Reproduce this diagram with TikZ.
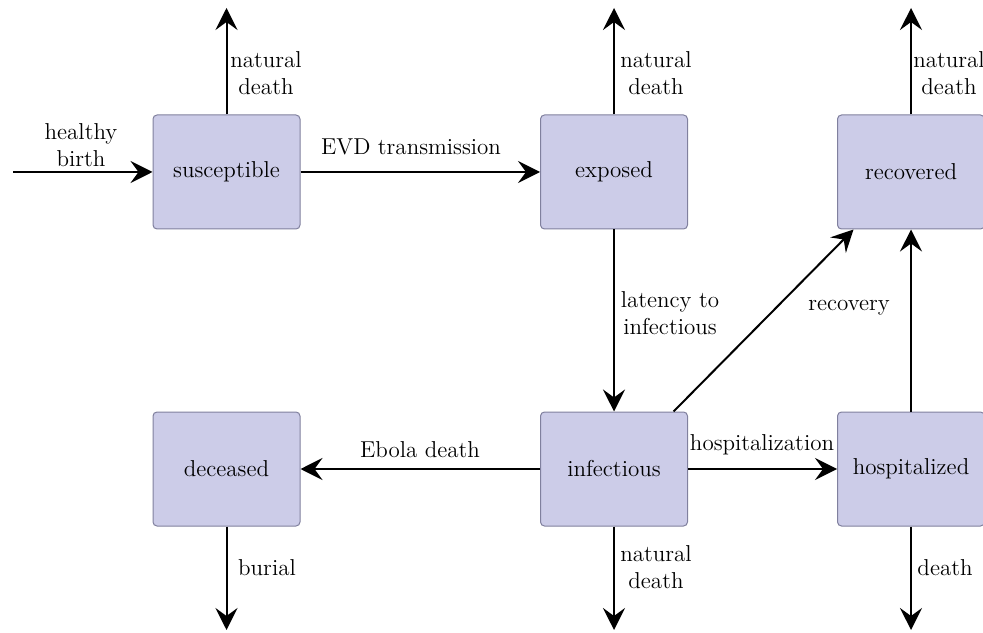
\documentclass[tikz,border=0pt]{standalone}
\usetikzlibrary{arrows.meta}

\definecolor{boxfill}{RGB}{204,204,232}
\definecolor{boxline}{RGB}{128,128,158}

\tikzset{
  compartment/.style={draw=boxline, fill=boxfill, line width=0.5pt,
    rounded corners=2pt, minimum width=73.5pt, minimum height=57pt,
    font=\fontsize{11.5}{13.6}\selectfont},
  flow/.style={line width=1pt, -{Stealth[length=11pt,width=11pt,inset=4pt]}},
  flowlabel/.style={align=center, inner sep=0pt, font=\fontsize{11.5}{13.6}\selectfont}
}

\begin{document}
\begin{tikzpicture}[x=0.5pt,y=0.5pt]

\useasboundingbox (0,0) rectangle (983,632);

% compartments
\node[compartment] (sus) at (226.5,460) {susceptible};
\node[compartment] (exp) at (614,460) {exposed};
\node[compartment] (rec) at (911,460) {recovered};
\node[compartment] (dec) at (226.5,163) {deceased};
\node[compartment] (inf) at (614,163) {infectious};
\node[compartment] (hos) at (911,163) {hospitalized};

% free ends
\coordinate (birth) at (13,460);
\coordinate (susout) at (226.5,624);
\coordinate (expout) at (614,624);
\coordinate (recout) at (911,624);
\coordinate (decout) at (226.5,2);
\coordinate (infout) at (614,2);
\coordinate (hosout) at (911,2);

% flows
\draw[flow] (birth) -- (sus);
\draw[flow] (sus) -- (exp);
\draw[flow] (exp) -- (inf);
\draw[flow] (inf) -- (dec);
\draw[flow] (inf) -- (hos);
\draw[flow] (hos) -- (rec);
\draw[flow] (inf.44) -- (rec.225);

\draw[flow] (sus.north) -- (susout);
\draw[flow] (exp.north) -- (expout);
\draw[flow] (rec.north) -- (recout);
\draw[flow] (dec.south) -- (decout);
\draw[flow] (inf.south) -- (infout);
\draw[flow] (hos.south) -- (hosout);

% labels
\node[flowlabel] (lbirth) at (81,487) {healthy\\birth};
\node[flowlabel] (lsusd) at (266,559) {natural\\death};
\node[flowlabel] (lexpd) at (656,559) {natural\\death};
\node[flowlabel] (lrecd) at (949,559) {natural\\death};
\node[flowlabel] (levd) at (411,485) {EVD transmission};
\node[flowlabel] (llat) at (670,319) {latency to\\infectious};
\node[flowlabel] (lrecov) at (849,324) {recovery};
\node[flowlabel] (lebola) at (420,182) {Ebola death};
\node[flowlabel] (lhosp) at (762,187) {hospitalization};
\node[flowlabel] (lbur) at (267,64) {burial};
\node[flowlabel] (linfd) at (656,65) {natural\\death};
\node[flowlabel] (lhosd) at (945,64) {death};

\end{tikzpicture}
\end{document}
